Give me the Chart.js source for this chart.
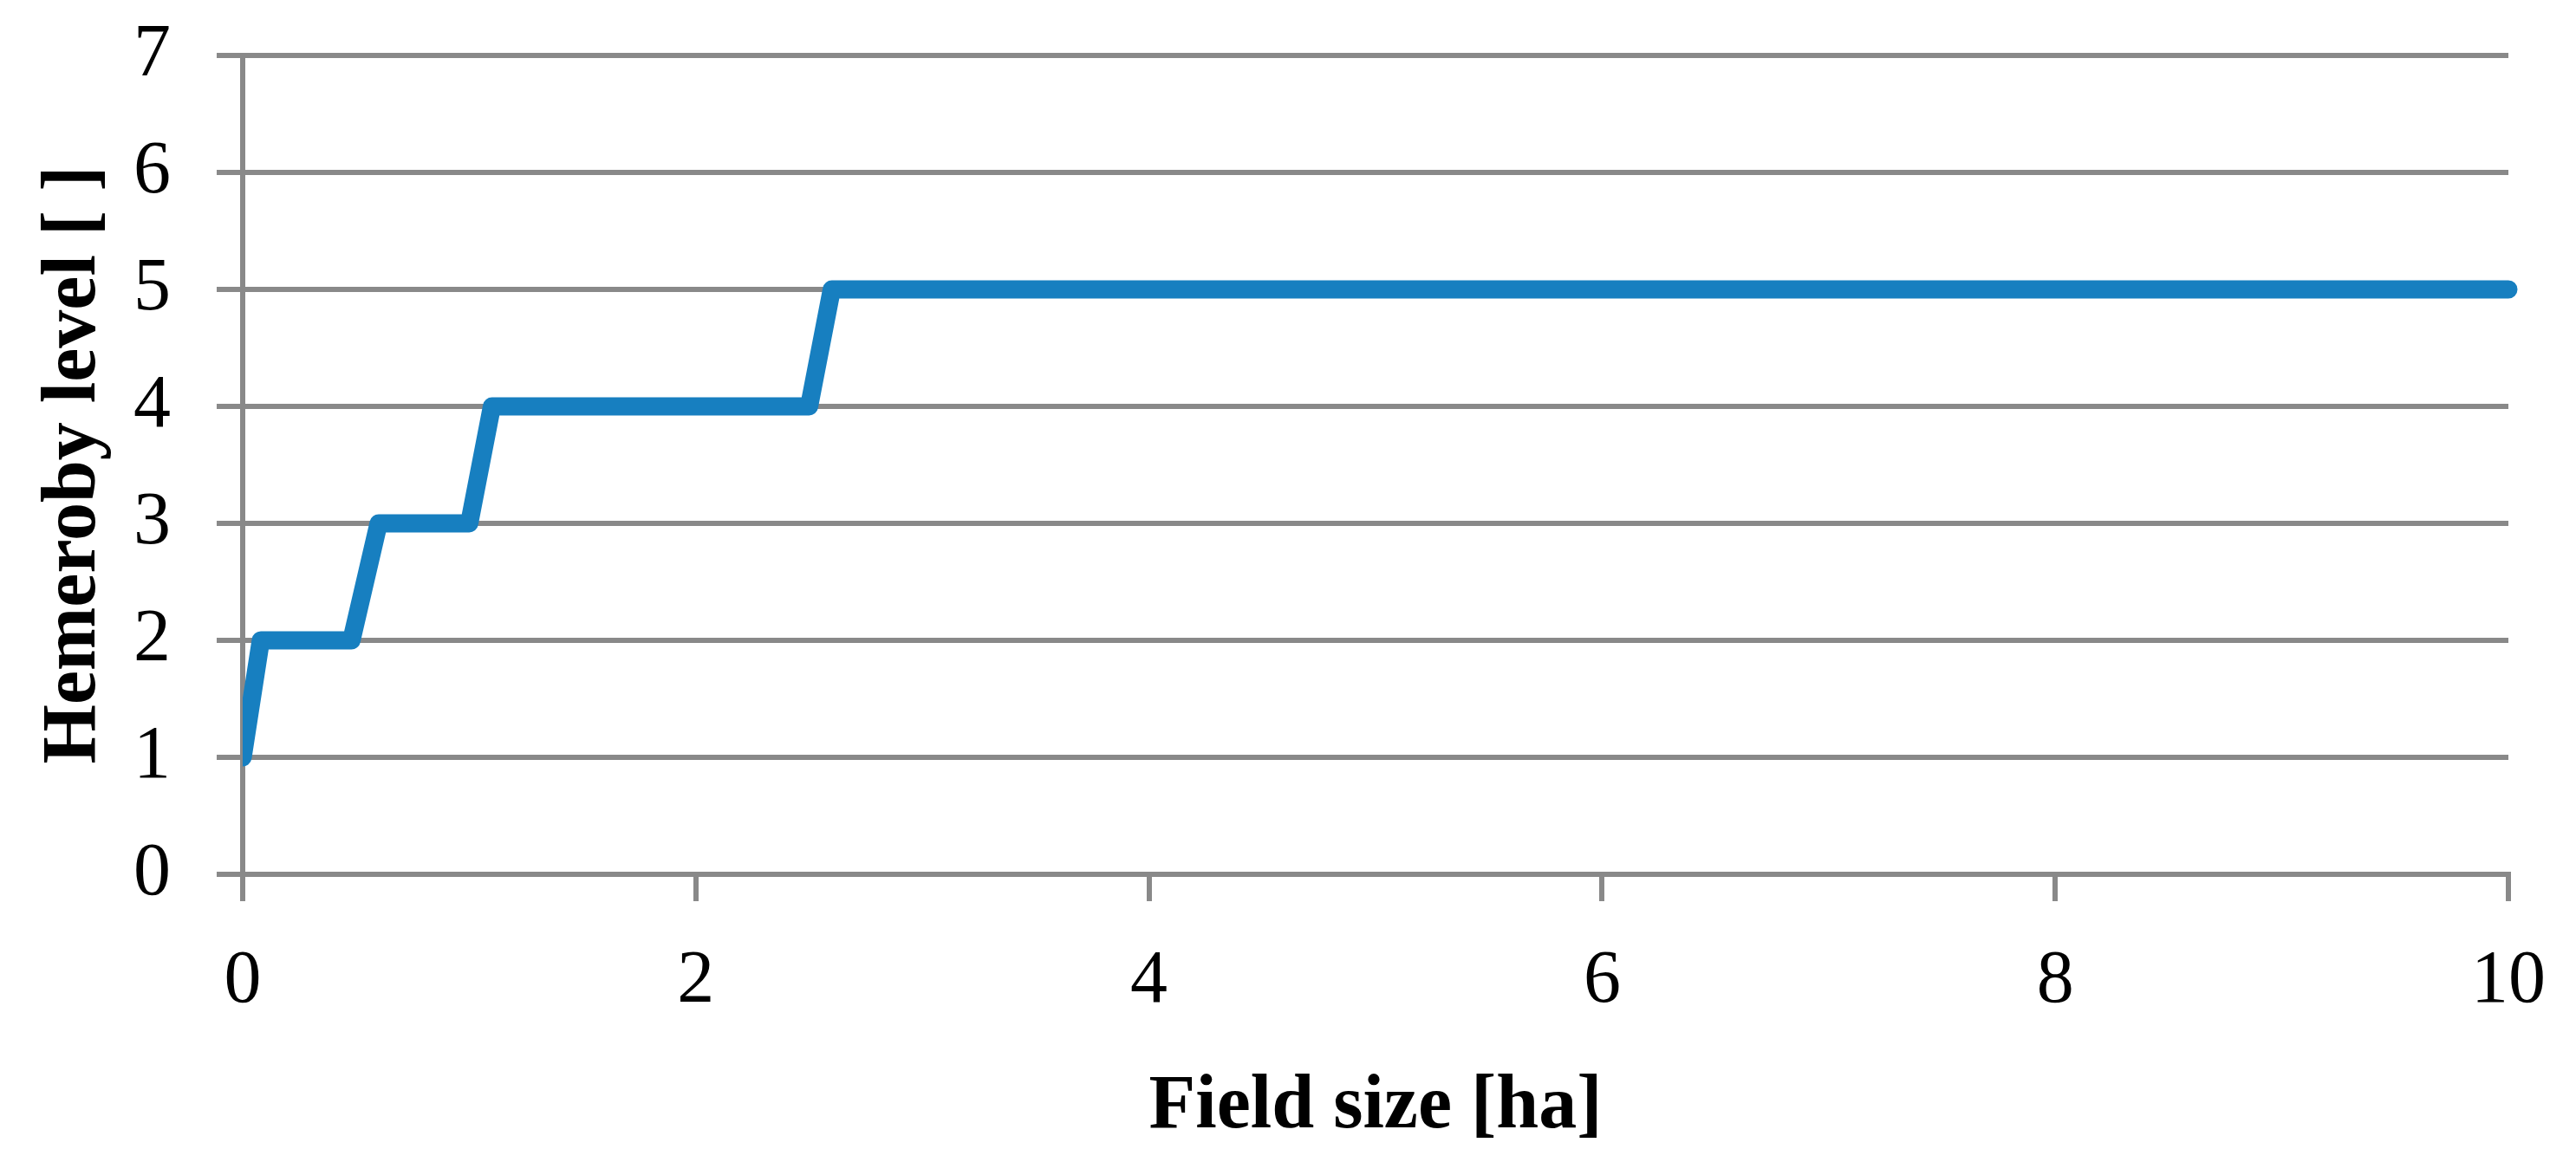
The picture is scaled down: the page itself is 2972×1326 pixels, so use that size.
<!DOCTYPE html>
<html>
<head>
<meta charset="utf-8">
<title>Hemeroby level vs field size</title>
<script src="https://cdn.jsdelivr.net/npm/chart.js@4/dist/chart.umd.min.js"></script>
<style>
    html, body { margin: 0; padding: 0; background: #ffffff; }
    #wrap { position: relative; width: 2972px; height: 1326px; }
</style>
</head>
<body>
<div id="wrap"><canvas id="chartHemeroby"></canvas></div>
<script>
// step curve: field size [ha] -> hemeroby level
const fieldSize = [0, 0.08, 0.48, 0.6, 1.0, 1.1, 2.5, 2.6, 10];
const hemeroby  = [1, 2, 2, 3, 3, 4, 4, 5, 5];

const xTicks = [0, 2, 4, 6, 8, 10];
const yTicks = [0, 1, 2, 3, 4, 5, 6, 7];

const xTitle = 'Field size [ha]';
const yTitle = 'Hemeroby level [ ]';

const gridGray = '#898989';
const lineBlue = '#177fc0';

// keep label overflow from pushing the plot area around
function noEdgePadding(scale) {
    scale.paddingTop = 0;
    scale.paddingBottom = 0;
    scale.paddingLeft = 0;
    scale.paddingRight = 0;
}

document.addEventListener('DOMContentLoaded', function () {

    const points = fieldSize.map(function (x, i) {
        return { x: x, y: hemeroby[i] };
    });

    const ctx = document.getElementById('chartHemeroby');

    new Chart(ctx, {
        type: 'line',
        data: {
            datasets: [{
                label: 'Hemeroby level',
                data: points,
                borderColor: lineBlue,
                borderWidth: 21,
                borderCapStyle: 'round',
                borderJoinStyle: 'round',
                pointRadius: 0,
                tension: 0,
                fill: false,
                clip: { left: 0, top: 30, right: 30, bottom: 30 }
            }]
        },
        options: {
            responsive: true,
            maintainAspectRatio: false,
            animation: false,
            layout: {
                padding: { left: 0, top: 64, right: 78, bottom: 0 }
            },
            plugins: {
                legend: { display: false },
                tooltip: { enabled: false }
            },
            scales: {
                x: {
                    type: 'linear',
                    min: 0,
                    max: 10,
                    afterBuildTicks: function (scale) {
                        scale.ticks = xTicks.map(function (v) { return { value: v }; });
                    },
                    afterFit: function (scale) {
                        scale.height = 317;
                        noEdgePadding(scale);
                    },
                    grid: {
                        drawOnChartArea: false,
                        drawTicks: true,
                        tickLength: 31,
                        color: gridGray,
                        lineWidth: 6
                    },
                    border: {
                        display: true,
                        color: gridGray,
                        width: 6
                    },
                    ticks: {
                        padding: 42,
                        color: '#000000',
                        font: { family: '"Liberation Serif", serif', size: 86 }
                    },
                    title: {
                        display: true,
                        text: xTitle,
                        color: '#000000',
                        padding: { top: 0, bottom: -5 },
                        font: { family: '"Liberation Serif", serif', size: 88, weight: 'bold' }
                    }
                },
                y: {
                    type: 'linear',
                    min: 0,
                    max: 7,
                    afterBuildTicks: function (scale) {
                        scale.ticks = yTicks.map(function (v) { return { value: v }; });
                    },
                    afterFit: function (scale) {
                        scale.width = 280;
                        noEdgePadding(scale);
                    },
                    grid: {
                        drawTicks: true,
                        tickLength: 30,
                        color: gridGray,
                        lineWidth: 6
                    },
                    border: {
                        display: true,
                        color: gridGray,
                        width: 6
                    },
                    ticks: {
                        padding: 53,
                        color: '#000000',
                        font: { family: '"Liberation Serif", serif', size: 86 }
                    },
                    title: {
                        display: true,
                        text: yTitle,
                        color: '#000000',
                        padding: { top: 33, bottom: 0 },
                        font: { family: '"Liberation Serif", serif', size: 88, weight: 'bold' }
                    }
                }
            }
        }
    });

});
</script>
</body>
</html>
